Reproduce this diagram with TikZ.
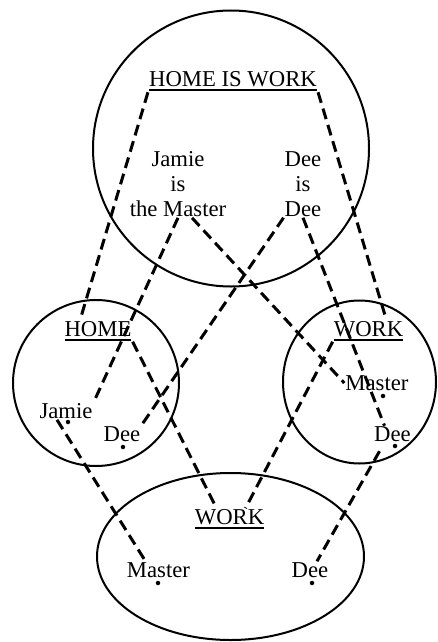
\documentclass[tikz,border=0pt]{standalone}
\usepackage{fontspec}
\setmainfont{Liberation Serif}
\usepackage{tikz}
\newcommand{\undl}[1]{\vtop{\hbox{#1}\kern2pt\hrule height 1.8pt}}
\tikzset{
  every picture/.style={line join=round, line cap=round},
  lbl/.style={inner sep=1pt, font=\fontsize{22.7}{25}\selectfont},
  ring/.style={line width=2pt},
  link/.style={line width=3pt, line cap=butt, dash pattern=on 11pt off 6pt},
  spot/.style={circle, fill, inner sep=0pt, minimum size=4.5pt},
}

\begin{document}
\begin{tikzpicture}[x=1pt,y=1pt]
\useasboundingbox (0,0) rectangle (438,-642);
% the four regions
\draw[ring](231,-148.5)circle[radius=138];
\draw[ring](96,-383)circle[radius=83];
\draw[ring](359.5,-382)circle[x radius=76.5,y radius=81.5];
\draw[ring](230.5,-556.5)circle[x radius=133.5,y radius=83.5];
% labels
\node[lbl](hiw) at (233,-81.5){\undl{HOME IS WORK}};
\node[lbl,align=center](jm) at (178,-184){Jamie\\is\\the Master};
\node[lbl,align=center](did) at (303,-184){Dee\\is\\Dee};
\node[lbl](home) at (98,-331){\undl{HOME}};
\node[lbl](jamie) at (66,-411){Jamie};
\node[lbl](dee0) at (122,-434){Dee};
\node[lbl](work1) at (368.5,-331){\undl{WORK}};
\node[lbl](master1) at (377,-383){Master};
\node[lbl](dee1) at (392.5,-434.5){Dee};
\node[lbl](work2) at (229.5,-519){\undl{WORK}};
\node[lbl](master2) at (158.5,-570){Master};
\node[lbl](dee2) at (310,-570){Dee};
% points
\node[spot](pj) at (68,-422){};
\node[spot](pd0) at (123,-447){};
\node[spot](pm1) at (383,-396){};
\node[spot](pd1) at (395,-446){};
\node[spot](pm2) at (158,-583){};
\node[spot](pd2) at (312,-583){};
% mappings
\draw[link](hiw.south west)--([xshift=-18pt]home.north);
\draw[link](hiw.south east)--([xshift=18pt]work1.north);
\draw[link](jm.south)--(jamie.north east);
\draw[link]([xshift=14pt]jm.south)--(master1.west);
\draw[link](did.south west)--(dee0.north east);
\draw[link](did.south)--([xshift=-8pt]dee1.north);
\draw[link](home.south east)--([xshift=-13pt]work2.north);
\draw[link](work1.south west)--([xshift=16pt]work2.north);
\draw[link]([xshift=-9pt]jamie.south)--([xshift=-13pt]master2.north);
\draw[link]([shift={(-13pt,-8pt)}]dee1.south)--([xshift=7pt]dee2.north);
\end{tikzpicture}
\end{document}
